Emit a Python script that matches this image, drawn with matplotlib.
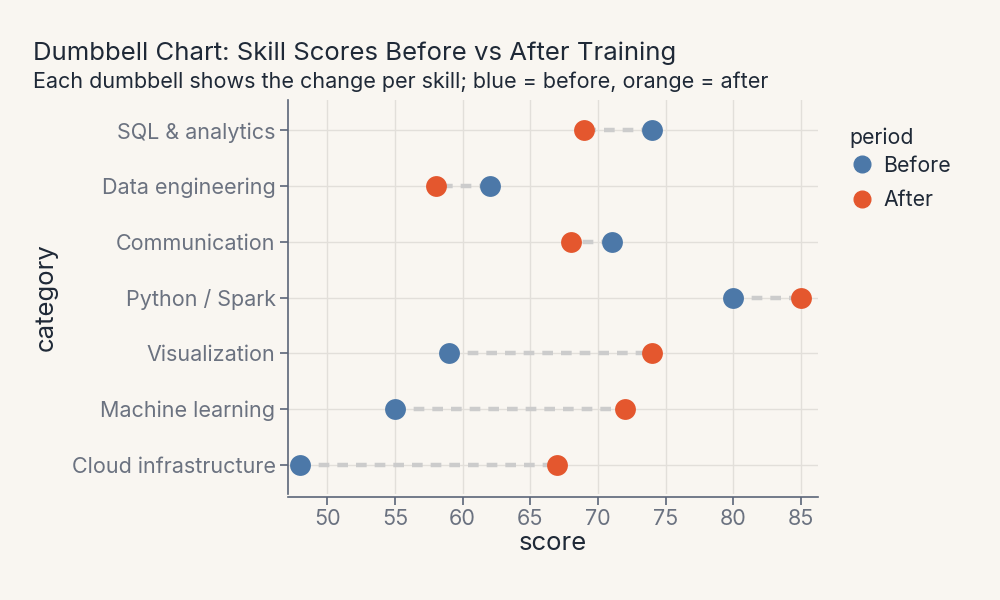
import matplotlib
matplotlib.use("Agg")
import matplotlib.pyplot as plt
from matplotlib.lines import Line2D

categories = ["SQL & analytics", "Data engineering", "Communication", "Python / Spark",
              "Visualization", "Machine learning", "Cloud infrastructure"]
before = [74, 62, 71, 80, 59, 55, 48]
after = [69, 58, 68, 85, 74, 72, 67]
xticks = [50, 55, 60, 65, 70, 75, 80, 85]

BG = "#f9f6f1"
BLUE = "#4c78a8"
ORANGE = "#e4572e"
TXT = "#1f2937"
TICK = "#6b7280"
SPINE = "#5b6578"

plt.rcParams['font.family'] = ['Inter', 'DejaVu Sans']

fig = plt.figure(figsize=(10, 6), dpi=100, facecolor=BG)
ax = fig.add_axes([0.288, 0.177, 0.53, 0.656], facecolor=BG)

n = len(categories)
ypos = [n - 1 - i for i in range(n)]

for y, b, a in zip(ypos, before, after):
    ax.plot([b, a], [y, y], color="#cccccc", lw=3.2, ls=(0, (2.4, 1.8)), zorder=2,
            solid_capstyle="butt", dash_capstyle="butt")
ax.scatter(before, ypos, s=225, color=BLUE, zorder=3, linewidths=0)
ax.scatter(after, ypos, s=225, color=ORANGE, zorder=3, linewidths=0)

ax.set_xlim(47.1, 86.25)
ax.set_ylim(-0.52, n - 1 + 0.54)
ax.set_yticks(ypos)
ax.set_yticklabels(categories)
ax.set_xticks(xticks)

ax.grid(True, color="#e2dfda", lw=1, zorder=0)
ax.set_axisbelow(True)
for s in ["top", "right"]:
    ax.spines[s].set_visible(False)
for s in ["left", "bottom"]:
    ax.spines[s].set_color(SPINE)
    ax.spines[s].set_linewidth(1.2)
ax.spines["bottom"].set_position(("outward", 2))
ax.tick_params(axis="both", colors=SPINE, labelcolor=TICK, labelsize=15.5,
               length=6, width=1.2, direction="out", pad=3)

ax.set_xlabel("score", fontsize=18.5, color=TXT, labelpad=2)
ax.set_ylabel("category", fontsize=18.5, color=TXT, labelpad=10)

fig.text(0.033, 0.912, "Dumbbell Chart: Skill Scores Before vs After Training",
         fontsize=18.5, color=TXT, va="center", ha="left")
fig.text(0.033, 0.863, "Each dumbbell shows the change per skill; blue = before, orange = after",
         fontsize=15.5, color=TXT, va="center", ha="left")

handles = [Line2D([], [], marker="o", ls="", color=BLUE, markersize=12),
           Line2D([], [], marker="o", ls="", color=ORANGE, markersize=12)]
leg = fig.legend(handles, ["Before", "After"], title="period", loc="upper left",
                 bbox_to_anchor=(0.841, 0.802), frameon=False, fontsize=15.3,
                 title_fontsize=15.3, handletextpad=0.4, labelspacing=0.7,
                 borderaxespad=0, handlelength=1.2)
leg._legend_box.align = "left"
leg._legend_box.sep = 5.6
for t in leg.get_texts():
    t.set_color(TXT)
leg.get_title().set_color(TXT)

fig.savefig("out.png", dpi=100, facecolor=BG)
